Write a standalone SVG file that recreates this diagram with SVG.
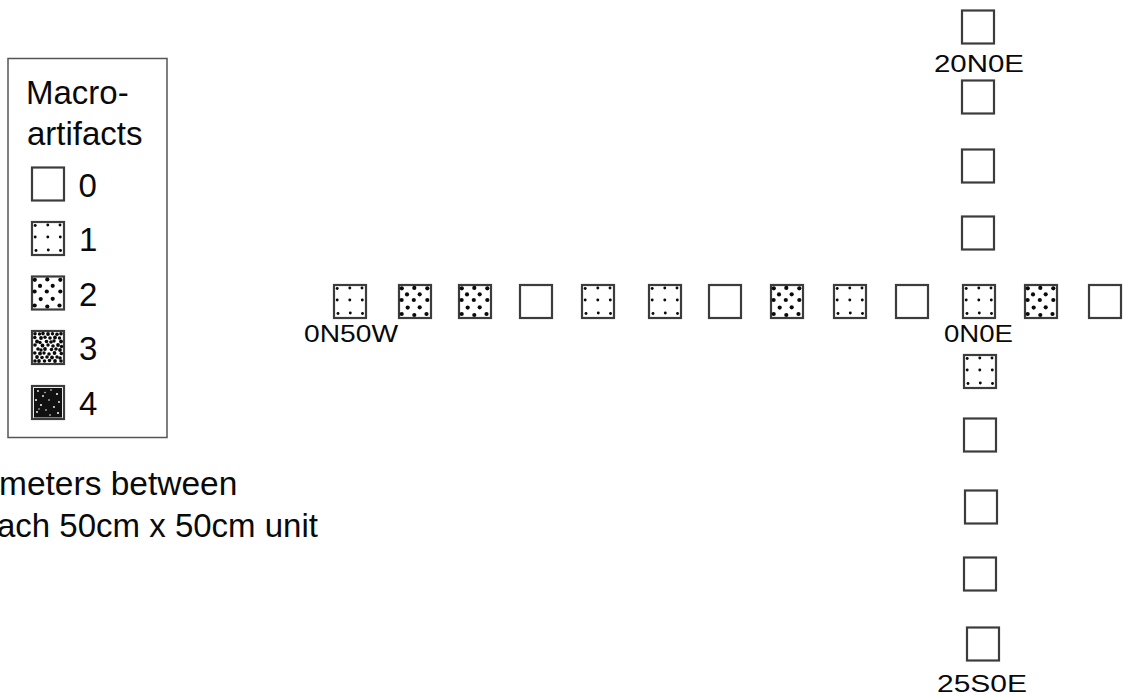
<svg xmlns="http://www.w3.org/2000/svg" xmlns:xlink="http://www.w3.org/1999/xlink" width="1124" height="695" viewBox="0 0 1124 695">
<style>
  .bg{fill:#fff}
  .sq{fill:#fff;stroke:#3c3c3c;stroke-width:2.2}
  .lb{font-family:"Liberation Sans",Arial,sans-serif;font-size:24.5px;fill:#0a0a0a}
  .lg{font-family:"Liberation Sans",Arial,sans-serif;font-size:33px;fill:#0a0a0a}
  .box{fill:#fff;stroke:#555;stroke-width:1.5}
  .d1{fill:#0a0a0a}
</style>
<defs>
  <g id="t0"><rect class="sq" x="1" y="1" width="32" height="33"/></g>
  <g id="t1">
    <rect class="sq" x="1" y="1" width="32" height="33"/>
    <g class="d1">
      <circle cx="4.2" cy="4.5" r="1.45"/><circle cx="16.8" cy="4" r="1.45"/><circle cx="29" cy="4" r="1.45"/>
      <circle cx="4.2" cy="16" r="1.45"/><circle cx="16.8" cy="16" r="1.45"/><circle cx="29.3" cy="16" r="1.45"/>
      <circle cx="5" cy="29.5" r="1.45"/><circle cx="17.3" cy="29" r="1.45"/><circle cx="29.5" cy="29.5" r="1.45"/>
    </g>
  </g>
  <g id="t2">
    <rect class="sq" x="1" y="1" width="32" height="33"/>
    <g class="d1">
      <circle cx="3.8" cy="4.3" r="2.1"/><circle cx="16.3" cy="3.9" r="2.1"/><circle cx="29.3" cy="4.3" r="2.1"/>
      <circle cx="9" cy="10.4" r="2.1"/><circle cx="21.7" cy="10.3" r="2.1"/>
      <circle cx="3.6" cy="16" r="2.1"/><circle cx="15.8" cy="16" r="2.1"/><circle cx="29.3" cy="16" r="2.1"/>
      <circle cx="9.7" cy="23.6" r="2.1"/><circle cx="21.7" cy="23.3" r="2.1"/>
      <circle cx="3.7" cy="30" r="2.1"/><circle cx="16.3" cy="31" r="2.1"/><circle cx="28.5" cy="30" r="2.1"/>
    </g>
  </g>
  <g id="t3">
    <rect class="sq" x="1" y="1" width="32" height="33"/>
    <g class="d1">
      <circle cx="4" cy="3.8" r="1.8"/><circle cx="8.5" cy="4" r="1.7"/><circle cx="12" cy="3.6" r="1.8"/><circle cx="17" cy="4" r="1.9"/><circle cx="21.5" cy="3.7" r="1.7"/><circle cx="26" cy="4.2" r="1.8"/><circle cx="30" cy="3.8" r="1.8"/>
      <circle cx="3.8" cy="7.5" r="1.8"/><circle cx="10" cy="8" r="1.9"/><circle cx="14" cy="7.2" r="1.7"/><circle cx="19" cy="8" r="1.8"/><circle cx="24" cy="7.5" r="1.9"/><circle cx="28.5" cy="8" r="1.7"/>
      <circle cx="6" cy="11.5" r="1.9"/><circle cx="9" cy="12.5" r="1.7"/><circle cx="15.5" cy="11.5" r="1.8"/><circle cx="20" cy="12" r="1.8"/><circle cx="23" cy="11" r="1.7"/><circle cx="30" cy="11.5" r="1.9"/>
      <circle cx="4" cy="15" r="1.8"/><circle cx="11.5" cy="15.5" r="1.9"/><circle cx="17" cy="15" r="1.7"/><circle cx="22" cy="16" r="1.8"/><circle cx="27" cy="15" r="1.9"/><circle cx="30.5" cy="16.5" r="1.7"/>
      <circle cx="7" cy="19" r="1.8"/><circle cx="10" cy="20" r="1.7"/><circle cx="14" cy="19" r="1.9"/><circle cx="20.5" cy="19.5" r="1.8"/><circle cx="25" cy="19" r="1.8"/><circle cx="29" cy="20" r="1.9"/>
      <circle cx="3.8" cy="23" r="1.8"/><circle cx="9" cy="23.5" r="1.9"/><circle cx="13" cy="23" r="1.7"/><circle cx="18" cy="24" r="1.8"/><circle cx="23.5" cy="23" r="1.9"/><circle cx="30.3" cy="23.5" r="1.8"/>
      <circle cx="6" cy="27" r="1.9"/><circle cx="11" cy="27.5" r="1.8"/><circle cx="16" cy="27" r="1.8"/><circle cx="21" cy="27.5" r="1.9"/><circle cx="26" cy="27" r="1.7"/><circle cx="29" cy="28" r="1.8"/>
      <circle cx="4" cy="31" r="1.8"/><circle cx="8" cy="31" r="1.9"/><circle cx="13.5" cy="31" r="1.8"/><circle cx="18.5" cy="30.5" r="1.8"/><circle cx="24" cy="31" r="1.9"/><circle cx="30" cy="31" r="1.8"/>
    </g>
  </g>
  <g id="t4">
    <rect class="sq" x="1" y="1" width="32" height="33"/>
    <rect x="3" y="3" width="28" height="29.5" fill="#111"/>
    <g fill="#fff">
      <circle cx="7" cy="6" r="0.9"/><circle cx="20" cy="5" r="0.8"/><circle cx="26" cy="9" r="1"/><circle cx="12" cy="11" r="0.9"/>
      <circle cx="5" cy="15" r="1"/><circle cx="18" cy="15" r="0.8"/><circle cx="28" cy="17" r="0.9"/><circle cx="10" cy="20" r="1"/>
      <circle cx="23" cy="22" r="0.9"/><circle cx="15" cy="25" r="0.8"/><circle cx="6" cy="27" r="0.9"/><circle cx="27" cy="28" r="1"/>
      <circle cx="19" cy="30" r="0.8"/><circle cx="14" cy="7.5" r="0.7"/><circle cx="8" cy="24" r="0.7"/>
    </g>
  </g>
</defs>
<rect class="bg" x="0" y="0" width="1124" height="695"/>

<g id="legend">
  <rect class="box" x="8" y="58.5" width="159" height="379"/>
  <text class="lg" x="26" y="104">Macro-</text>
  <text class="lg" x="27" y="145">artifacts</text>
  <use xlink:href="#t0" x="31" y="166.5"/>
  <text class="lg" x="78.5" y="196.5">0</text>
  <use xlink:href="#t1" x="31" y="221"/>
  <text class="lg" x="79" y="251">1</text>
  <use xlink:href="#t2" x="31" y="275.5"/>
  <text class="lg" x="79" y="305.5">2</text>
  <use xlink:href="#t3" x="31" y="330"/>
  <text class="lg" x="79" y="360">3</text>
  <use xlink:href="#t4" x="31" y="385"/>
  <text class="lg" x="79" y="415">4</text>
</g>

<g id="note">
  <text class="lg" x="-1" y="495" style="font-size:33.5px">meters between</text>
  <text class="lg" x="-3" y="537">ach 50cm x 50cm unit</text>
</g>

<g id="row">
  <g id="u0N50W"><use xlink:href="#t1" x="333" y="284"/>
    <text class="lb" x="351" y="341.5" text-anchor="middle" textLength="94" lengthAdjust="spacingAndGlyphs">0N50W</text></g>
  <g id="u0N45W"><use xlink:href="#t2" x="398" y="284"/></g>
  <g id="u0N40W"><use xlink:href="#t2" x="458" y="284"/></g>
  <g id="u0N35W"><use xlink:href="#t0" x="519" y="284"/></g>
  <g id="u0N30W"><use xlink:href="#t1" x="581" y="284"/></g>
  <g id="u0N25W"><use xlink:href="#t1" x="648" y="284"/></g>
  <g id="u0N20W"><use xlink:href="#t0" x="708" y="284"/></g>
  <g id="u0N15W"><use xlink:href="#t2" x="770" y="284"/></g>
  <g id="u0N10W"><use xlink:href="#t1" x="833" y="284"/></g>
  <g id="u0N5W"><use xlink:href="#t0" x="895" y="284"/></g>
  <g id="u0N0E"><use xlink:href="#t1" x="962" y="284"/>
    <text class="lb" x="978.5" y="341.5" text-anchor="middle" textLength="69" lengthAdjust="spacingAndGlyphs">0N0E</text></g>
  <g id="u0N5E"><use xlink:href="#t2" x="1024" y="284"/></g>
  <g id="u0N10E"><use xlink:href="#t0" x="1088" y="284"/></g>
</g>

<g id="column">
  <g id="u20N0E"><use xlink:href="#t0" x="961" y="9.5"/>
    <text class="lb" x="979" y="71.5" text-anchor="middle" textLength="90" lengthAdjust="spacingAndGlyphs">20N0E</text></g>
  <g id="u15N0E"><use xlink:href="#t0" x="961" y="79.5"/></g>
  <g id="u10N0E"><use xlink:href="#t0" x="961" y="148.5"/></g>
  <g id="u5N0E"><use xlink:href="#t0" x="961" y="215.5"/></g>
  <g id="u5S0E"><use xlink:href="#t1" x="963" y="354"/></g>
  <g id="u10S0E"><use xlink:href="#t0" x="963" y="417.5"/></g>
  <g id="u15S0E"><use xlink:href="#t0" x="964" y="489.5"/></g>
  <g id="u20S0E"><use xlink:href="#t0" x="963" y="556.5"/></g>
  <g id="u25S0E"><use xlink:href="#t0" x="966" y="626.5"/>
    <text class="lb" x="982" y="692" text-anchor="middle" textLength="90" lengthAdjust="spacingAndGlyphs">25S0E</text></g>
</g>

<g id="connectors"/>
</svg>
